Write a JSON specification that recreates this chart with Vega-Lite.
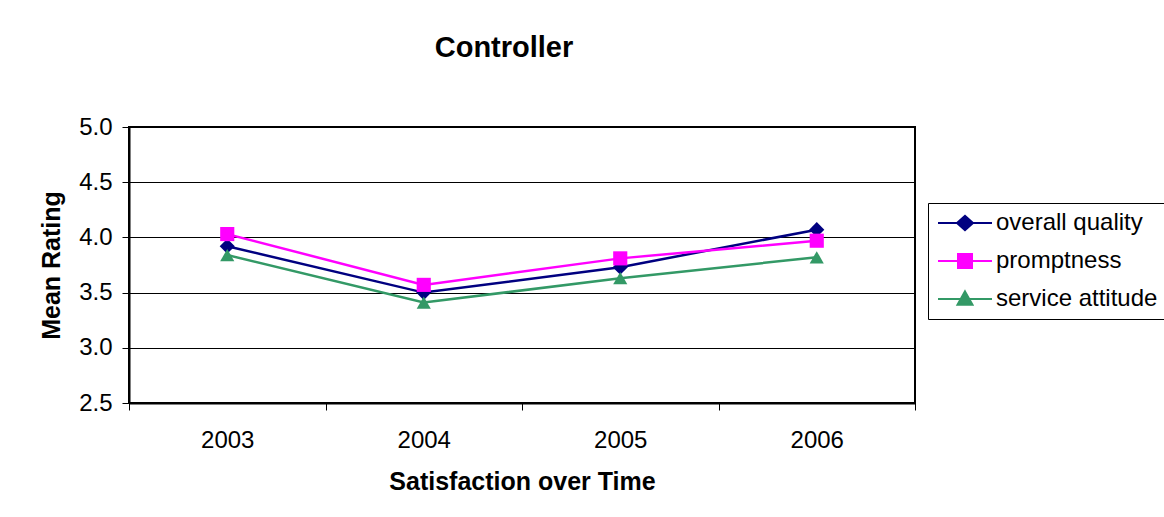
{
  "$schema": "https://vega.github.io/schema/vega-lite/v6.json",
  "autosize": {"type": "none"},
  "padding": {"left": 129, "top": 127, "right": 249, "bottom": 114},
  "width": 786,
  "height": 276,
  "background": "white",
  "title": {
    "text": "Controller",
    "fontSize": 29,
    "fontWeight": "bold",
    "font": "Liberation Sans",
    "color": "black",
    "anchor": "middle",
    "baseline": "alphabetic",
    "offset": 29,
    "dx": -18
  },
  "config": {
    "font": "Liberation Sans",
    "view": {"stroke": "black", "strokeWidth": 2},
    "axis": {
      "labelFont": "Liberation Sans",
      "labelFontSize": 24,
      "labelColor": "black",
      "titleFont": "Liberation Sans",
      "titleFontSize": 25,
      "titleFontWeight": "bold",
      "titleColor": "black",
      "domainColor": "black",
      "domainWidth": 2,
      "tickColor": "black",
      "tickWidth": 1,
      "tickSize": 7
    },
    "legend": {
      "labelFont": "Liberation Sans",
      "labelFontSize": 24,
      "labelColor": "black"
    }
  },
  "data": {
    "values": [
      {"year": "2003", "series": "overall quality", "rating": 3.92},
      {"year": "2004", "series": "overall quality", "rating": 3.5},
      {"year": "2005", "series": "overall quality", "rating": 3.73},
      {"year": "2006", "series": "overall quality", "rating": 4.07},
      {"year": "2003", "series": "promptness", "rating": 4.03},
      {"year": "2004", "series": "promptness", "rating": 3.57},
      {"year": "2005", "series": "promptness", "rating": 3.81},
      {"year": "2006", "series": "promptness", "rating": 3.97},
      {"year": "2003", "series": "service attitude", "rating": 3.84},
      {"year": "2004", "series": "service attitude", "rating": 3.41},
      {"year": "2005", "series": "service attitude", "rating": 3.63},
      {"year": "2006", "series": "service attitude", "rating": 3.82}
    ]
  },
  "encoding": {
    "x": {
      "field": "year",
      "type": "ordinal",
      "title": "Satisfaction over Time",
      "scale": {"type": "band", "paddingInner": 0, "paddingOuter": 0},
      "axis": {
        "labelAngle": 0,
        "tickBand": "extent",
        "labelPadding": 18,
        "titlePadding": 17,
        "grid": false
      }
    },
    "y": {
      "field": "rating",
      "type": "quantitative",
      "title": "Mean Rating",
      "scale": {"domain": [2.5, 5], "zero": false, "nice": false},
      "axis": {
        "values": [2.5, 3, 3.5, 4, 4.5, 5],
        "format": ".1f",
        "labelPadding": 10,
        "titlePadding": 14,
        "grid": true,
        "gridColor": "black",
        "gridWidth": 1,
        "gridOpacity": 1
      }
    },
    "color": {
      "field": "series",
      "type": "nominal",
      "title": null,
      "scale": {
        "domain": ["overall quality", "promptness", "service attitude"],
        "range": ["#000080", "#FF00FF", "#339966"]
      },
      "legend": {
        "orient": "none",
        "legendX": 799,
        "legendY": 76,
        "title": null,
        "padding": 8,
        "strokeColor": "black",
        "symbolSize": 400,
        "symbolOffset": 17,
        "labelOffset": 19,
        "labelLimit": 400,
        "rowPadding": 14,
        "encode": {
          "symbols": {
            "update": {
              "shape": {"signal": "datum.value === 'overall quality' ? 'M-2.7,0L2.7,0M-0.8,0L0,-0.72L0.8,0L0,0.72Z' : datum.value === 'promptness' ? 'M-2.7,0L2.7,0M-0.7,-0.7L0.7,-0.7L0.7,0.7L-0.7,0.7Z' : 'M-2.7,0L2.7,0M0,-0.76L0.75,0.57L-0.75,0.57Z'"},
              "fill": {"scale": "color", "field": "value"},
              "stroke": {"scale": "color", "field": "value"},
              "strokeWidth": {"value": 2},
              "opacity": {"value": 1},
              "fillOpacity": {"value": 1}
            }
          }
        }
      }
    }
  },
  "layer": [
    {
      "mark": {"type": "line", "strokeWidth": 2.5}
    },
    {
      "transform": [{"filter": "datum.series === 'overall quality'"}],
      "mark": {"type": "point", "filled": true, "opacity": 1, "size": 230, "shape": "diamond"}
    },
    {
      "transform": [{"filter": "datum.series === 'promptness'"}],
      "mark": {"type": "point", "filled": true, "opacity": 1, "size": 200, "shape": "square"}
    },
    {
      "transform": [{"filter": "datum.series === 'service attitude'"}],
      "mark": {"type": "point", "filled": true, "opacity": 1, "size": 200, "shape": "triangle-up"}
    }
  ]
}
